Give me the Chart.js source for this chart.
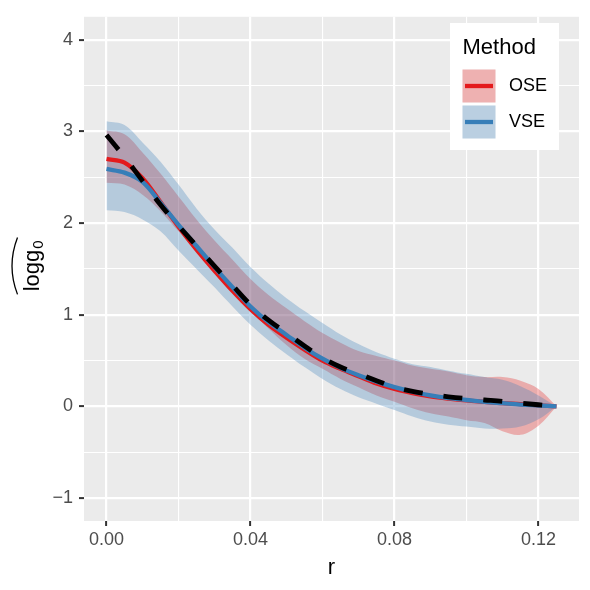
<!DOCTYPE html>
<html>
<head>
<meta charset="utf-8">
<script src="https://cdn.jsdelivr.net/npm/chart.js@4.4.0/dist/chart.umd.min.js"></script>
<style>
  body { margin: 0; background: #ffffff; }
  canvas { display: block; }
</style>
</head>
<body>
<canvas id="chart" width="590" height="590"></canvas>
<script>
'use strict';

// data

var rValues = [0, 0.005, 0.01, 0.015, 0.02, 0.025, 0.03, 0.035, 0.04, 0.045, 0.05, 0.055, 0.06,
  0.065, 0.07, 0.075, 0.08, 0.085, 0.09, 0.095, 0.1, 0.105, 0.11, 0.115, 0.12, 0.125];

var trueCurve = [2.96, 2.72, 2.46, 2.20, 1.97, 1.75, 1.53, 1.32, 1.11, 0.94, 0.80, 0.66, 0.53,
  0.43, 0.355, 0.28, 0.21, 0.165, 0.13, 0.105, 0.085, 0.07, 0.055, 0.035, 0.018, 0];

var oseMean = [2.70, 2.66, 2.49, 2.23, 1.96, 1.71, 1.48, 1.26, 1.06, 0.89, 0.75, 0.62, 0.50,
  0.41, 0.33, 0.25, 0.19, 0.145, 0.11, 0.085, 0.065, 0.05, 0.035, 0.025, 0.012, 0];
var oseUpper = [3.01, 2.97, 2.77, 2.54, 2.29, 2.04, 1.81, 1.60, 1.39, 1.215, 1.07, 0.93, 0.80,
  0.695, 0.605, 0.55, 0.50, 0.445, 0.41, 0.38, 0.34, 0.32, 0.32, 0.28, 0.19, 0];
var oseLower = [2.44, 2.42, 2.31, 2.13, 1.91, 1.70, 1.48, 1.27, 1.05, 0.85, 0.67, 0.52, 0.41,
  0.30, 0.21, 0.12, 0.05, -0.02, -0.075, -0.11, -0.15, -0.18, -0.27, -0.31, -0.21, 0];

var vseMean = [2.59, 2.55, 2.45, 2.22, 1.98, 1.75, 1.52, 1.30, 1.09, 0.92, 0.78, 0.64, 0.52,
  0.42, 0.34, 0.27, 0.21, 0.16, 0.12, 0.09, 0.07, 0.05, 0.035, 0.02, 0.01, 0];
var vseUpper = [3.11, 3.07, 2.88, 2.67, 2.42, 2.16, 1.93, 1.73, 1.52, 1.34, 1.18, 1.04, 0.91,
  0.785, 0.68, 0.59, 0.52, 0.46, 0.43, 0.39, 0.355, 0.32, 0.29, 0.22, 0.12, 0];
var vseLower = [2.14, 2.12, 2.04, 1.91, 1.70, 1.50, 1.30, 1.09, 0.89, 0.72, 0.57, 0.43, 0.30,
  0.19, 0.10, 0.03, -0.04, -0.11, -0.165, -0.20, -0.22, -0.24, -0.24, -0.22, -0.14, 0];

var methods = ['OSE', 'VSE'];
var legendTitle = 'Method';

var xMajorTicks = [0, 0.04, 0.08, 0.12];
var xMinorTicks = [0.02, 0.06, 0.10];
var yMajorTicks = [-1, 0, 1, 2, 3, 4];
var yMinorTicks = [-0.5, 0.5, 1.5, 2.5, 3.5];

// colours (RColorBrewer Set1)

var oseColor = '#E41A1C';
var vseColor = '#377EB8';
var oseFill = 'rgba(228, 26, 28, 0.3)';
var vseFill = 'rgba(55, 126, 184, 0.3)';
var fontFamily = '"Liberation Sans", Arial, Helvetica, sans-serif';

function toPoints(values) {
  var points = [];
  for (var i = 0; i < rValues.length; i++) {
    points.push({ x: rValues[i], y: values[i] });
  }
  return points;
}

function sortedTicks(major, minor) {
  return major.concat(minor).sort(function (a, b) { return a - b; })
    .map(function (v) { return { value: v }; });
}

function isMajor(ctx, list) {
  return ctx.tick && list.indexOf(ctx.tick.value) >= 0;
}

function fmtY(v) {
  return v < 0 ? '\u2212' + Math.abs(v) : String(v);
}

// panel background

var panelBackground = {
  id: 'panelBackground',
  beforeDraw: function (chart) {
    var a = chart.chartArea;
    var c = chart.ctx;
    c.save();
    c.fillStyle = '#EBEBEB';
    c.fillRect(a.left, a.top, a.right - a.left, a.bottom - a.top);
    c.restore();
  }
};

// axis titles and the legend box inside the panel

var overlay = {
  id: 'overlay',
  afterDraw: function (chart) {
    var c = chart.ctx;
    var a = chart.chartArea;
    c.save();

    // x title
    c.fillStyle = '#000000';
    c.font = '22px ' + fontFamily;
    c.textAlign = 'center';
    c.textBaseline = 'alphabetic';
    c.fillText('r', (a.left + a.right) / 2, 574);

    // y title, rotated, with a wide hat
    c.save();
    c.translate(38.5, (a.top + a.bottom) / 2 - 3);
    c.rotate(-Math.PI / 2);
    c.font = '22px ' + fontFamily;
    var mainW = c.measureText('logg').width;
    c.font = '15px ' + fontFamily;
    var subW = c.measureText('0').width;
    var total = mainW + subW + 1;
    c.textAlign = 'left';
    c.font = '22px ' + fontFamily;
    c.fillText('logg', -total / 2, 0);
    c.font = '15px ' + fontFamily;
    c.fillText('0', -total / 2 + mainW + 1, 4);
    c.strokeStyle = '#000000';
    c.lineWidth = 1.3;
    c.beginPath();
    c.moveTo(-total / 2 - 3, -21);
    c.quadraticCurveTo(0, -32, total / 2 + 3, -21);
    c.stroke();
    c.restore();

    // legend
    c.fillStyle = '#FFFFFF';
    c.fillRect(450, 23, 109, 127);
    c.fillStyle = '#000000';
    c.font = '22px ' + fontFamily;
    c.textAlign = 'left';
    c.fillText(legendTitle, 462.5, 54);

    var keyFills = [oseFill, vseFill];
    var keyLines = [oseColor, vseColor];
    var keyTops = [69.5, 105.5];
    for (var i = 0; i < methods.length; i++) {
      var top = keyTops[i];
      c.fillStyle = '#F2F2F2';
      c.fillRect(462.5, top, 33, 33);
      c.fillStyle = keyFills[i];
      c.fillRect(462.5, top, 33, 33);
      c.strokeStyle = keyLines[i];
      c.lineWidth = 4.3;
      c.beginPath();
      c.moveTo(465, top + 16.5);
      c.lineTo(493, top + 16.5);
      c.stroke();
      c.fillStyle = '#000000';
      c.font = '18px ' + fontFamily;
      c.textBaseline = 'middle';
      c.fillText(methods[i], 509, top + 17);
      c.textBaseline = 'alphabetic';
    }
    c.restore();
  }
};

function bandSet(values, fill, color, order) {
  return {
    data: toPoints(values),
    borderWidth: 0,
    borderColor: 'rgba(0,0,0,0)',
    backgroundColor: color,
    fill: fill,
    pointRadius: 0,
    tension: 0.35,
    order: order
  };
}

function lineSet(values, color, width, order, dash) {
  return {
    data: toPoints(values),
    borderColor: color,
    borderWidth: width,
    borderDash: dash || [],
    borderCapStyle: 'butt',
    fill: false,
    pointRadius: 0,
    tension: 0.35,
    order: order
  };
}

var ctx = document.getElementById('chart').getContext('2d');

new Chart(ctx, {
  type: 'line',
  data: {
    datasets: [
      bandSet(oseUpper, '+1', oseFill, 6),
      bandSet(oseLower, false, 'rgba(0,0,0,0)', 6),
      bandSet(vseUpper, '+1', vseFill, 5),
      bandSet(vseLower, false, 'rgba(0,0,0,0)', 5),
      lineSet(oseMean, oseColor, 4.3, 3),
      lineSet(vseMean, vseColor, 4.3, 2),
      lineSet(trueCurve, '#000000', 4.8, 1, [19, 21])
    ]
  },
  options: {
    responsive: false,
    animation: false,
    devicePixelRatio: 1,
    layout: { padding: { left: 0, top: 9, right: 11, bottom: 0 } },
    plugins: {
      legend: { display: false },
      tooltip: { enabled: false }
    },
    scales: {
      x: {
        type: 'linear',
        min: -0.00625,
        max: 0.13125,
        afterBuildTicks: function (scale) {
          scale.ticks = sortedTicks(xMajorTicks, xMinorTicks);
        },
        afterFit: function (scale) { scale.height = 69; },
        ticks: {
          autoSkip: false,
          maxRotation: 0,
          padding: 3,
          color: '#4D4D4D',
          font: { family: fontFamily, size: 18 },
          callback: function (v) {
            return xMajorTicks.indexOf(v) >= 0 ? v.toFixed(2) : '';
          }
        },
        grid: {
          color: '#FFFFFF',
          lineWidth: function (c) { return isMajor(c, xMajorTicks) ? 2.2 : 1.1; },
          tickLength: 5,
          tickWidth: 2,
          tickColor: function (c) { return isMajor(c, xMajorTicks) ? '#333333' : 'rgba(0,0,0,0)'; }
        },
        border: { display: false }
      },
      y: {
        type: 'linear',
        min: -1.25,
        max: 4.25,
        afterBuildTicks: function (scale) {
          scale.ticks = sortedTicks(yMajorTicks, yMinorTicks);
        },
        afterFit: function (scale) { scale.width = 84; },
        ticks: {
          autoSkip: false,
          padding: 6,
          color: '#4D4D4D',
          font: { family: fontFamily, size: 18 },
          callback: function (v) {
            return yMajorTicks.indexOf(v) >= 0 ? fmtY(v) : '';
          }
        },
        grid: {
          color: '#FFFFFF',
          lineWidth: function (c) { return isMajor(c, yMajorTicks) ? 2.2 : 1.1; },
          tickLength: 5,
          tickWidth: 2,
          tickColor: function (c) { return isMajor(c, yMajorTicks) ? '#333333' : 'rgba(0,0,0,0)'; }
        },
        border: { display: false }
      }
    }
  },
  plugins: [panelBackground, overlay]
});
</script>
</body>
</html>
